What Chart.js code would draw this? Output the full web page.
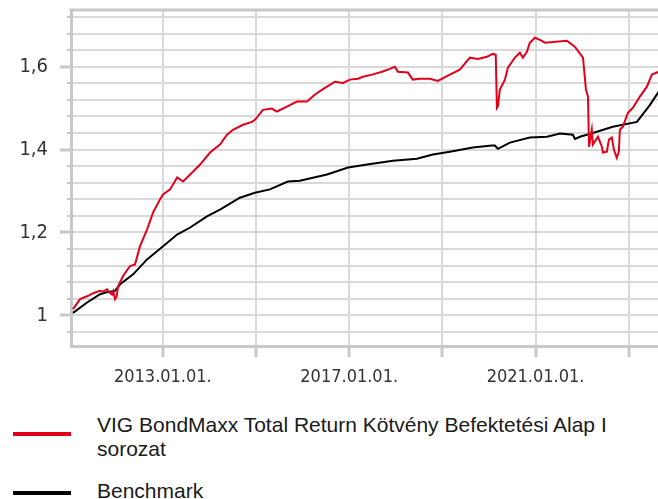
<!DOCTYPE html>
<html><head><meta charset="utf-8">
<script src="https://cdn.jsdelivr.net/npm/chart.js@4/dist/chart.umd.min.js"></script>
<style>
html,body{margin:0;padding:0;background:#fff;overflow:hidden;width:658px;height:499px;}
#wrap{position:absolute;left:0;top:0;width:720px;height:400px;}
.swatch{position:absolute;left:13px;width:58px;height:4px;}
.txt{position:absolute;left:97px;width:561px;font-family:"Liberation Sans",Arial,sans-serif;font-size:21px;line-height:23.5px;color:#1a1a1a;}
</style></head><body>
<div id="wrap"><canvas id="c" width="720" height="400"></canvas></div>
<div id="legend"></div>
<script>
const seriesNames = ['VIG BondMaxx Total Return Kötvény Befektetési Alap I sorozat', 'Benchmark'];
const seriesColors = ['#e3001b', '#000000'];

const fundDates = ['2011-01-28','2011-03-24','2011-05-18','2011-07-10','2011-08-28','2011-09-20','2011-10-22','2011-11-10','2011-11-30','2011-12-10','2011-12-23','2012-01-05','2012-01-16','2012-02-24','2012-04-19','2012-05-28','2012-07-06','2012-08-30','2012-10-16','2012-12-10','2013-01-03','2013-02-27','2013-04-23','2013-06-09','2013-08-03','2013-10-20','2014-01-06','2014-03-25','2014-05-19','2014-07-05','2014-09-22','2014-12-01','2014-12-24','2015-02-25','2015-05-06','2015-06-14','2015-09-01','2015-11-18','2016-02-05','2016-04-08','2016-06-25','2016-09-11','2016-11-13','2017-01-08','2017-03-11','2017-04-19','2017-06-29','2017-09-15','2017-11-16','2017-12-25','2018-01-18','2018-04-06','2018-05-15','2018-07-09','2018-09-26','2018-11-27','2019-03-01','2019-05-18','2019-08-05','2019-10-07','2019-12-16','2020-02-01','2020-02-24','2020-03-04','2020-03-12','2020-03-27','2020-05-06','2020-05-29','2020-07-23','2020-08-31','2020-09-24','2020-10-25','2020-11-17','2020-12-27','2021-02-05','2021-03-16','2021-05-18','2021-09-04','2021-11-06','2022-01-08','2022-01-31','2022-02-16','2022-02-24','2022-03-18','2022-03-26','2022-05-05','2022-06-05','2022-06-13','2022-07-14','2022-07-30','2022-08-22','2022-09-07','2022-09-30','2022-10-16','2022-10-24','2022-11-16','2022-12-26','2023-02-03','2023-03-30','2023-05-24','2023-07-02','2023-08-25'];
const fundValues = [1.015,1.039,1.046,1.054,1.059,1.057,1.063,1.055,1.050,1.058,1.039,1.045,1.070,1.095,1.119,1.123,1.167,1.207,1.248,1.280,1.292,1.304,1.333,1.323,1.340,1.364,1.393,1.412,1.436,1.448,1.460,1.467,1.472,1.496,1.499,1.492,1.504,1.516,1.516,1.533,1.549,1.564,1.561,1.569,1.571,1.576,1.581,1.588,1.595,1.600,1.588,1.586,1.569,1.571,1.571,1.566,1.581,1.593,1.622,1.619,1.624,1.631,1.629,1.501,1.505,1.545,1.569,1.598,1.622,1.634,1.622,1.636,1.658,1.670,1.665,1.658,1.660,1.663,1.648,1.622,1.545,1.528,1.407,1.448,1.412,1.431,1.407,1.393,1.395,1.424,1.429,1.400,1.380,1.395,1.448,1.455,1.489,1.501,1.528,1.552,1.581,1.588];

const benchDates = ['2011-01-28','2011-05-18','2011-08-28','2011-10-22','2011-12-23','2012-02-01','2012-05-13','2012-08-30','2013-01-03','2013-04-23','2013-08-03','2013-12-13','2014-03-25','2014-08-28','2014-12-24','2015-04-20','2015-09-08','2015-12-11','2016-07-11','2016-12-23','2017-05-21','2017-12-10','2018-06-16','2018-10-19','2019-03-01','2019-08-28','2020-01-24','2020-02-17','2020-03-12','2020-06-14','2020-11-17','2021-04-01','2021-07-11','2021-10-21','2021-11-06','2021-12-15','2022-03-26','2022-08-30','2023-03-07','2023-06-17','2023-08-25'];
const benchValues = [1.006,1.031,1.051,1.056,1.059,1.075,1.099,1.135,1.167,1.195,1.212,1.239,1.255,1.284,1.296,1.304,1.323,1.325,1.340,1.357,1.364,1.373,1.378,1.388,1.395,1.405,1.410,1.410,1.402,1.417,1.429,1.431,1.439,1.436,1.426,1.431,1.440,1.455,1.467,1.508,1.540];

const xTickDates = ['2013-01-01','2015-01-01','2017-01-01','2019-01-01','2021-01-01','2023-01-01'];
const xTickLabels = ['2013.01.01.','','2017.01.01.','','2021.01.01.',''];
const yLabelValues = [1, 1.2, 1.4, 1.6];
const yTickLabels = ['1', '1,2', '1,4', '1,6'];

const xMin = '2011-01-12', xMax = '2024-12-17';
const yMin = 0.926, yMax = 1.737;

const GRID = '#d9d9d9', AXIS = '#c8c8c8', TICKFONT = '"DejaVu Sans Condensed","DejaVu Sans",sans-serif';
const toMs = s => Date.parse(s + 'T00:00:00Z');
const yGrid = [];
for (let k = 24; k <= 43; k++) yGrid.push(+(k * 0.04).toFixed(2));
const majorIdx = v => yLabelValues.findIndex(m => Math.abs(m - v) < 1e-6);

const framePlugin = {
  id: 'frame',
  afterDraw(chart) {
    const {ctx, chartArea, scales: {y}} = chart;
    ctx.save();
    ctx.strokeStyle = AXIS;
    ctx.lineWidth = 2;
    y.ticks.forEach(t => {
      if (majorIdx(t.value) < 0) {
        const py = Math.round(y.getPixelForValue(t.value));
        ctx.beginPath(); ctx.moveTo(chartArea.left - 4, py); ctx.lineTo(chartArea.left, py); ctx.stroke();
      }
    });
    ctx.lineWidth = 3;
    ctx.beginPath(); ctx.moveTo(chartArea.left - 1.5, chartArea.top); ctx.lineTo(chartArea.right, chartArea.top); ctx.stroke();
    ctx.restore();
  }
};

const chart = new Chart(document.getElementById('c'), {
  type: 'line',
  data: {
    datasets: [
      {label: seriesNames[0], data: fundDates.map((d, i) => ({x: toMs(d), y: fundValues[i]})), borderColor: seriesColors[0], borderWidth: 2},
      {label: seriesNames[1], data: benchDates.map((d, i) => ({x: toMs(d), y: benchValues[i]})), borderColor: seriesColors[1], borderWidth: 2}
    ]
  },
  options: {
    responsive: false, animation: false, devicePixelRatio: 1,
    layout: {padding: {top: 10, left: 0, right: 0, bottom: 0}},
    elements: {point: {radius: 0}, line: {tension: 0}},
    plugins: {legend: {display: false}, tooltip: {enabled: false}},
    scales: {
      x: {
        type: 'linear', min: toMs(xMin), max: toMs(xMax),
        afterBuildTicks: s => { s.ticks = xTickDates.map(d => ({value: toMs(d)})); },
        afterFit: s => { s.height = 54; s.paddingLeft = 0; s.paddingRight = 0; },
        grid: {color: GRID, lineWidth: 2, tickLength: 11, tickColor: AXIS, tickWidth: 3},
        border: {color: AXIS, width: 3},
        ticks: {autoSkip: false, maxRotation: 0, padding: 10, color: '#333', font: {family: TICKFONT, size: 18},
          callback: (v, i) => xTickLabels[i]}
      },
      y: {
        min: yMin, max: yMax,
        afterBuildTicks: s => { s.ticks = yGrid.map(v => ({value: v})); },
        afterFit: s => { s.width = 71; s.paddingTop = 0; s.paddingBottom = 0; },
        grid: {color: GRID, lineWidth: 2, tickLength: 11, tickWidth: 3,
          tickColor: c => (c.tick && majorIdx(c.tick.value) >= 0) ? AXIS : 'rgba(0,0,0,0)'},
        border: {color: AXIS, width: 3},
        ticks: {autoSkip: false, padding: 12, color: '#333', font: {family: TICKFONT, size: 20},
          callback: v => { const i = majorIdx(v); return i >= 0 ? yTickLabels[i] : ''; }}
      }
    }
  },
  plugins: [framePlugin]
});

// HTML legend built from the chart's datasets
const legendTops = [{text: 413, swatch: 432}, {text: 479, swatch: 491}];
const lg = document.getElementById('legend');
chart.data.datasets.forEach((ds, i) => {
  const sw = document.createElement('div');
  sw.className = 'swatch'; sw.style.top = legendTops[i].swatch + 'px'; sw.style.background = ds.borderColor;
  const tx = document.createElement('div');
  tx.className = 'txt'; tx.style.top = legendTops[i].text + 'px'; tx.textContent = ds.label;
  lg.appendChild(sw); lg.appendChild(tx);
});
</script></body></html>
